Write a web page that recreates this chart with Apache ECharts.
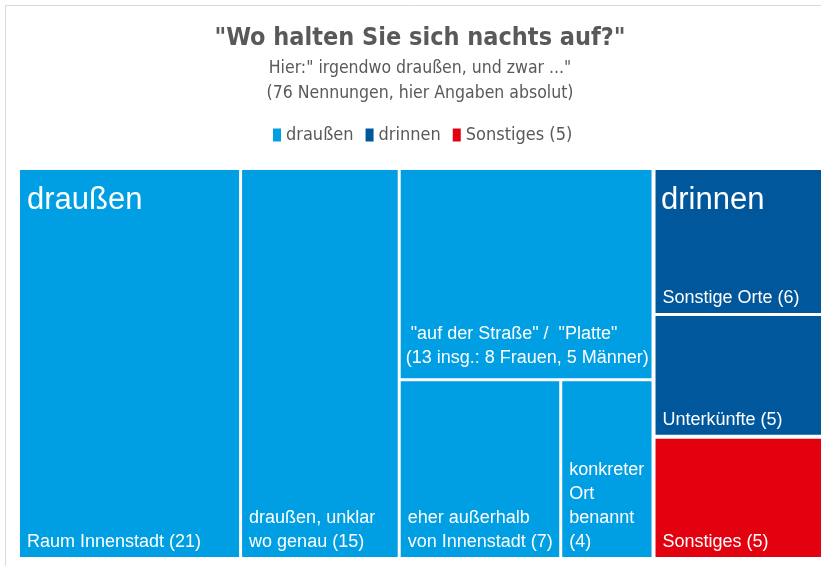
<!DOCTYPE html>
<html>
<head>
<meta charset="utf-8">
<script src="https://cdn.jsdelivr.net/npm/echarts@6/dist/echarts.min.js"></script>
<style>
  html, body { margin: 0; padding: 0; background: #fff; }
  #main { width: 821px; height: 566px; }
</style>
</head>
<body>
<div id="main"></div>
<script>
// Gruppen (Legende)
const groups = ['draußen', 'drinnen', 'Sonstiges (5)']
const groupColors = ['#009fe3', '#00579c', '#e3000f']

// draußen
const outsideNames = [
  'Raum Innenstadt (21)',
  'draußen, unklar\nwo genau (15)',
  ' "auf der Straße" /  "Platte"\n(13 insg.: 8 Frauen, 5 Männer)',
  'eher außerhalb\nvon Innenstadt (7)',
  'konkreter\nOrt\nbenannt\n(4)'
]
const outsideValues = [21, 15, 13, 7, 4]

// drinnen
const insideNames = ['Sonstige Orte (6)', 'Unterkünfte (5)']
const insideValues = [6, 5]

// Sonstiges
const otherValues = [5]

const narrow = '"Liberation Sans Narrow", "DejaVu Sans Condensed", sans-serif'
const regular = '"Liberation Sans", Arial, sans-serif'

const chartDom = document.getElementById('main')
const myChart = echarts.init(chartDom)

const treeData = [
  {
    name: groups[0],
    itemStyle: { color: groupColors[0] },
    children: outsideNames.map((n, i) => ({
      name: n,
      value: outsideValues[i],
      itemStyle: { color: groupColors[0] },
      label: i === 2 ? { padding: [0, 0, 5, 2] } : undefined
    }))
  },
  {
    name: groups[1],
    itemStyle: { color: groupColors[1] },
    children: insideNames.map((n, i) => ({
      name: n,
      value: insideValues[i],
      itemStyle: { color: groupColors[1] }
    }))
  },
  {
    name: groups[2],
    value: otherValues[0],
    itemStyle: { color: groupColors[2] }
  }
]

const option = {
  animation: false,
  title: {
    text: '"Wo halten Sie sich nachts auf?"',
    subtext: 'Hier:" irgendwo draußen, und zwar ..."\n(76 Nennungen, hier Angaben absolut)',
    left: 420,
    top: 26,
    padding: 0,
    textAlign: 'center',
    itemGap: 5,
    textStyle: { fontFamily: narrow, fontWeight: 'bold', fontSize: 25, color: '#595959' },
    subtextStyle: { fontFamily: narrow, fontSize: 17.5, lineHeight: 25, color: '#595959' }
  },
  legend: {
    data: groups,
    left: 268,
    top: 121,
    itemWidth: 8,
    itemHeight: 13,
    itemGap: 12,
    icon: 'rect',
    textStyle: { fontFamily: narrow, fontSize: 18, color: '#595959' }
  },
  grid: { show: false },
  xAxis: { show: false, type: 'category', data: [] },
  yAxis: { show: false },
  graphic: [
    {
      type: 'rect',
      z: -10,
      shape: { x: 5.5, y: 5.5, width: 840, height: 600 },
      style: { fill: 'none', stroke: '#d9d9d9', lineWidth: 1 }
    },
    {
      type: 'text', z: 100, left: 27, top: 185,
      style: { text: groups[0], fill: '#fff', font: '31px "Liberation Sans", Arial, sans-serif' }
    },
    {
      type: 'text', z: 100, left: 661, top: 185,
      style: { text: groups[1], fill: '#fff', font: '31px "Liberation Sans", Arial, sans-serif' }
    }
  ],
  series: [
    { name: groups[0], type: 'bar', data: [], itemStyle: { color: groupColors[0] } },
    { name: groups[1], type: 'bar', data: [], itemStyle: { color: groupColors[1] } },
    { name: groups[2], type: 'bar', data: [], itemStyle: { color: groupColors[2] } },
    {
      type: 'treemap',
      left: 20,
      top: 170,
      width: 801,
      height: 387,
      roam: false,
      nodeClick: false,
      breadcrumb: { show: false },
      squareRatio: 0.7,
      visibleMin: 0,
      label: {
        show: true,
        position: 'insideBottomLeft',
        distance: 3,
        padding: [0, 0, 0, 4],
        color: '#fff',
        fontFamily: regular,
        fontSize: 18,
        lineHeight: 24,
        overflow: 'none'
      },
      upperLabel: { show: false },
      itemStyle: { borderWidth: 0, gapWidth: 0 },
      levels: [
        { itemStyle: { borderWidth: 0, gapWidth: 4 } },
        { itemStyle: { borderWidth: 0, gapWidth: 3 } },
        { itemStyle: { borderWidth: 0, gapWidth: 0 } }
      ],
      data: treeData
    }
  ]
}
option && myChart.setOption(option)
</script>
</body>
</html>
